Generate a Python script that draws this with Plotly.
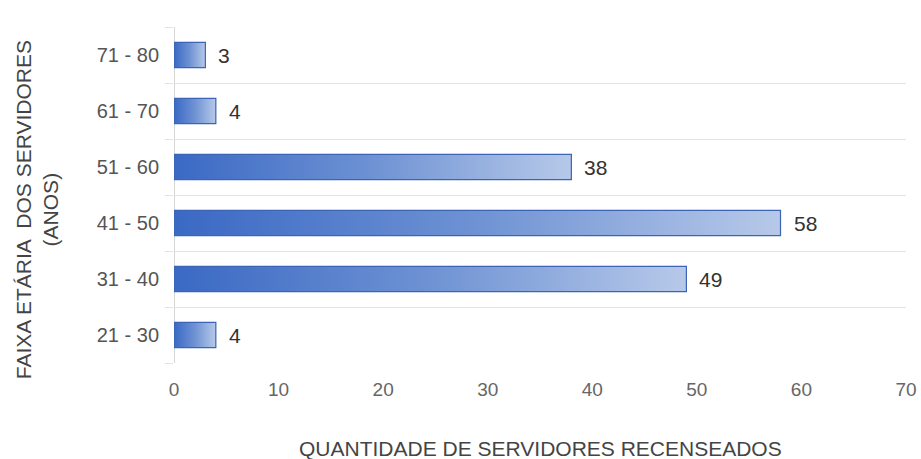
import plotly.graph_objects as go

faixas = ["21 - 30", "31 - 40", "41 - 50", "51 - 60", "61 - 70", "71 - 80"]
servidores = [4, 49, 58, 38, 4, 3]
x_ticks = [0, 10, 20, 30, 40, 50, 60, 70]

half = 0.225  # half bar thickness, in category units
grid_col = "#e3e3e3"

fig = go.Figure()

for i, (cat, v) in enumerate(zip(faixas, servidores)):
    fig.add_trace(go.Scatter(
        x=[0, v, v, 0, 0],
        y=[i - half, i - half, i + half, i + half, i - half],
        mode="lines",
        fill="toself",
        fillgradient=dict(type="horizontal",
                          colorscale=[[0, "#3a69c4"], [0.5, "#6e92d3"], [1, "#b7c9e9"]]),
        line=dict(color="#3c63b5", width=1.2),
        hoverinfo="skip",
        showlegend=False,
    ))
    fig.add_annotation(x=v, y=i, text=str(v), showarrow=False,
                       xanchor="left", xshift=11,
                       font=dict(size=21, color="#333333"))

# axis titles placed as annotations
fig.add_annotation(xref="paper", yref="paper", x=-0.187, y=0.455,
                   text="FAIXA ETÁRIA  DOS SERVIDORES<br>(ANOS)", textangle=-90,
                   showarrow=False, xanchor="center", yanchor="middle",
                   font=dict(size=21, color="#444444"))
fig.add_annotation(xref="paper", yref="paper", x=0.5, y=-0.253,
                   text="QUANTIDADE DE SERVIDORES RECENSEADOS",
                   showarrow=False, xanchor="center", yanchor="middle",
                   font=dict(size=21, color="#444444"))

fig.update_layout(
    width=921, height=459,
    margin=dict(l=174, r=15, t=27, b=96),
    plot_bgcolor="white", paper_bgcolor="white",
    font=dict(family="Liberation Sans, Arial, sans-serif", color="#555555"),
    xaxis=dict(
        range=[0, 70], tickvals=x_ticks, showgrid=False, automargin=False,
        zeroline=True, zerolinecolor="#d6d6d6", zerolinewidth=1,
        ticks="outside", ticklen=9, tickcolor="rgba(0,0,0,0)",
        tickfont=dict(size=19, color="#666666"),
    ),
    yaxis=dict(
        range=[-0.5, 5.5], tickvals=list(range(len(faixas))), ticktext=faixas,
        showgrid=False, zeroline=False, automargin=False,
        ticks="outside", ticklen=10, tickcolor="rgba(0,0,0,0)",
        tickfont=dict(size=20, color="#555555"),
        minor=dict(tickvals=[k - 0.5 for k in range(len(faixas) + 1)],
                   showgrid=True, gridcolor=grid_col, gridwidth=1,
                   ticks="outside", ticklen=8, tickcolor=grid_col),
    ),
)

# drop the default body margin so the figure fills the window exactly
fig.write_html("out.html", config={"displayModeBar": False},
               post_script="document.body.style.margin='0';document.body.style.overflow='hidden';")
